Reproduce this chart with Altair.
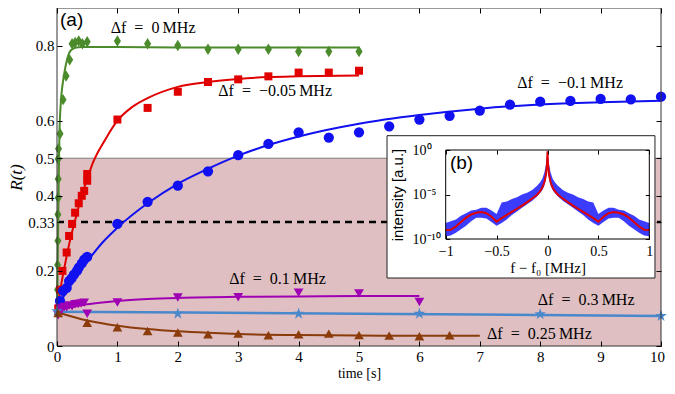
import altair as alt
import pandas as pd

# ---------------- main panel (a): measured points ----------------
series = ["0", "-0.05", "-0.1", "0.1", "0.3", "0.25"]
colors = ["#4b8b2b", "#e00000", "#1010f0", "#a000b4", "#4a88cc", "#8b3c0a"]

g_t = [0.01, 0.01, 0.015, 0.015, 0.02, 0.02, 0.02, 0.025, 0.05, 0.1, 0.15, 0.21, 0.25, 0.3, 0.36, 0.42, 0.5,
       1.0, 1.5, 2.0, 2.5, 3.0, 3.5, 4.0, 4.5, 5.0]
g_R = [0.15, 0.216, 0.28, 0.35, 0.395, 0.445, 0.498, 0.525, 0.565, 0.656, 0.719, 0.762, 0.805, 0.808, 0.812, 0.805, 0.81,
       0.812, 0.805, 0.80, 0.79, 0.79, 0.79, 0.784, 0.784, 0.784]

r_t = [0.02, 0.05, 0.09, 0.16, 0.2, 0.25, 0.3, 0.36, 0.41, 0.45, 0.5, 0.5, 1.0, 1.5, 2.0, 2.5, 3.0, 3.5, 4.0, 4.5, 5.0]
r_R = [0.10, 0.15, 0.2, 0.249, 0.293, 0.325, 0.355, 0.38, 0.4, 0.413, 0.44, 0.458, 0.603, 0.634, 0.677, 0.703, 0.71,
       0.718, 0.728, 0.728, 0.733]

b_t = [0.05, 0.1, 0.16, 0.2, 0.24, 0.28, 0.33, 0.36, 0.41, 0.45, 0.5, 1.0, 1.5, 2.0, 2.5, 3.0, 3.5, 4.0, 4.5, 5.0,
       5.5, 6.0, 6.5, 7.0, 7.5, 8.0, 8.5, 9.0, 9.5, 10.0]
b_R = [0.12, 0.147, 0.155, 0.173, 0.18, 0.19, 0.2, 0.209, 0.22, 0.23, 0.237, 0.325, 0.384, 0.427, 0.465, 0.508, 0.538,
       0.569, 0.555, 0.569, 0.585, 0.603, 0.613, 0.627, 0.643, 0.651, 0.653, 0.658, 0.657, 0.664]

m_t = [0.02, 0.05, 0.08, 0.12, 0.16, 0.2, 0.25, 0.3, 0.35, 0.4, 0.45, 0.5, 1.0, 2.0, 3.0, 4.0, 5.0, 6.0]
m_R = [0.082, 0.1, 0.098, 0.104, 0.103, 0.108, 0.106, 0.111, 0.112, 0.113, 0.115, 0.086, 0.116, 0.129, 0.13, 0.142,
       0.14, 0.117]

s_t = [0.0, 2.0, 4.0, 6.0, 8.0, 10.0]
s_R = [0.093, 0.086, 0.086, 0.086, 0.0845, 0.08]

n_t = [0.02, 0.5, 1.0, 1.5, 2.0, 2.5, 3.0, 3.5, 4.0, 4.5, 5.0, 5.5, 6.0, 6.5]
n_R = [0.088, 0.062, 0.05, 0.04, 0.036, 0.031, 0.033, 0.0285, 0.031, 0.033, 0.029, 0.0276, 0.026, 0.0285]

gf_t = [0, 0.01, 0.02, 0.03, 0.04, 0.06, 0.08, 0.1, 0.13, 0.17, 0.21, 0.26, 0.32, 0.4, 0.6, 1, 2, 3, 4, 5]
gf_R = [0.10, 0.2, 0.33, 0.46, 0.56, 0.64, 0.68, 0.705, 0.735, 0.765, 0.783, 0.791, 0.795, 0.796, 0.796, 0.796,
        0.795, 0.795, 0.795, 0.795]
rf_t = [0, 0.1, 0.2, 0.3, 0.4, 0.5, 0.6, 0.8, 1.0, 1.25, 1.5, 2.0, 2.5, 3.0, 3.5, 4.0, 5.0]
rf_R = [0.10, 0.19, 0.27, 0.335, 0.395, 0.445, 0.49, 0.55, 0.60, 0.637, 0.66, 0.69, 0.703, 0.711, 0.716, 0.718, 0.72]
bf_t = [0, 0.25, 0.5, 0.75, 1.0, 1.5, 2.0, 2.5, 3.0, 3.5, 4.0, 5.0, 6.0, 7.0, 8.0, 9.0, 10.0]
bf_R = [0.10, 0.17, 0.225, 0.275, 0.315, 0.38, 0.432, 0.472, 0.507, 0.535, 0.558, 0.592, 0.615, 0.632, 0.643,
        0.649, 0.653]
mf_t = [0, 0.25, 0.5, 0.75, 1.0, 1.5, 2.0, 3.0, 4.0, 5.0, 6.0]
mf_R = [0.095, 0.104, 0.111, 0.116, 0.12, 0.125, 0.128, 0.131, 0.132, 0.133, 0.133]
sf_t = [0, 5, 10]
sf_R = [0.0915, 0.086, 0.08]
nf_t = [0, 0.5, 1.0, 1.5, 2.0, 2.5, 3.0, 4.0, 5.0, 6.0, 7.0]
nf_R = [0.09, 0.068, 0.054, 0.045, 0.039, 0.035, 0.032, 0.029, 0.028, 0.027, 0.027]

y_ticks = [0, 0.2, 0.33, 0.4, 0.5, 0.6, 0.8]
x_ticks = [0, 1, 2, 3, 4, 5, 6, 7, 8, 9, 10]

EN, TH = "\u2002", "\u2009"
labels = ["Δf" + EN + "=" + EN + "0" + TH + "MHz",
          "Δf" + EN + "=" + EN + "−0.05" + TH + "MHz",
          "Δf" + EN + "=" + EN + "−0.1" + TH + "MHz",
          "Δf" + EN + "=" + EN + "0.1" + TH + "MHz",
          "Δf" + EN + "=" + EN + "0.3" + TH + "MHz",
          "Δf" + EN + "=" + EN + "0.25" + TH + "MHz"]
label_t = [0.89, 2.67, 7.62, 2.85, 7.96, 7.12]
label_R = [0.848, 0.68, 0.701, 0.179, 0.123, 0.032]

# ---------------- inset (b) ----------------
inset_f = [-1, -0.95, -0.9, -0.85, -0.8, -0.75, -0.7, -0.65, -0.6, -0.55, -0.5, -0.45, -0.4, -0.35, -0.3, -0.25,
           -0.2, -0.15, -0.1, -0.07, -0.05, -0.03, -0.015, -0.005, 0,
           0.005, 0.015, 0.03, 0.05, 0.07, 0.1, 0.15, 0.2, 0.25, 0.3, 0.35, 0.4, 0.45, 0.5, 0.55, 0.6, 0.65, 0.7,
           0.75, 0.8, 0.85, 0.9, 0.95, 1]
fit_exp = [-9.0, -8.95, -8.6, -8.1, -7.6, -7.25, -7.05, -6.97, -7.1, -7.5, -8.05, -7.65, -7.3, -6.95, -6.6, -6.25,
           -5.85, -5.45, -5.0, -4.6, -4.2, -3.6, -2.8, -1.6, -0.15,
           -1.6, -2.8, -3.6, -4.2, -4.6, -5.0, -5.45, -5.85, -6.25, -6.6, -6.95, -7.3, -7.65, -8.05, -7.5, -7.1,
           -6.97, -7.05, -7.25, -7.6, -8.1, -8.6, -8.95, -9.0]
cloud_lo = [-9.7, -9.6, -9.3, -8.9, -8.5, -8.0, -7.6, -7.6, -7.7, -8.1, -8.5, -8.2, -7.8, -7.3, -6.9, -6.5,
            -6.1, -5.7, -5.2, -4.8, -4.5, -4.0, -3.2, -2.0, -0.6,
            -2.0, -3.2, -4.0, -4.5, -4.8, -5.2, -5.7, -6.1, -6.5, -6.9, -7.3, -7.8, -8.2, -8.5, -8.1, -7.7,
            -7.6, -7.6, -8.0, -8.5, -8.9, -9.3, -9.6, -9.7]
cloud_hi = [-8.2, -8.0, -7.8, -7.4, -7.1, -6.8, -6.7, -6.5, -6.5, -6.8, -7.2, -5.9, -5.8, -5.5, -5.3, -5.0,
            -4.8, -4.5, -4.0, -3.6, -3.2, -2.5, -1.6, -0.6, 0.0,
            -0.6, -1.6, -2.5, -3.2, -3.6, -4.0, -4.5, -4.8, -5.0, -5.3, -5.5, -5.8, -5.9, -7.2, -6.8, -6.5,
            -6.5, -6.7, -6.8, -7.1, -7.4, -7.8, -8.0, -8.2]
inset_xticks = [-1, -0.5, 0, 0.5, 1]
inset_yticks = [1e-10, 1e-5, 1]

# ---------------- tables ----------------
pt_sets = [(g_t, g_R), (r_t, r_R), (b_t, b_R), (m_t, m_R), (s_t, s_R), (n_t, n_R)]
fit_sets = [(gf_t, gf_R), (rf_t, rf_R), (bf_t, bf_R), (mf_t, mf_R), (sf_t, sf_R), (nf_t, nf_R)]
lab = pd.DataFrame({"t": label_t, "R": label_R, "text": labels})
inset = pd.DataFrame({"f": inset_f,
                      "fit": [10 ** e for e in fit_exp],
                      "lo": [10 ** e for e in cloud_lo],
                      "hi": [10 ** e for e in cloud_hi]})

SERIF = "Liberation Serif"
SANS = "Liberation Sans"

diamond = "M0,-1L0.62,0L0,1L-0.62,0Z"
star = ("M0,-1L0.2245,-0.309L0.9511,-0.309L0.3633,0.118L0.5878,0.809L0,0.382L-0.5878,0.809"
        "L-0.3633,0.118L-0.9511,-0.309L-0.2245,-0.309Z")
shapes = [diamond, "square", "circle", "triangle-down", star, "triangle-up"]
sizes = [130, 64, 105, 95, 150, 95]
widths = [2, 2, 2, 2, 2.5, 2]

xs = alt.Scale(domain=[0, 10], nice=False, zero=False)
ys = alt.Scale(domain=[0, 0.9], nice=False, zero=False)
x_axis = alt.Axis(values=x_ticks, offset=-5, tickSize=5, domain=False, grid=False, labelFont=SERIF,
                  labelFontSize=15, labelPadding=3, labelColor="black", tickColor="black",
                  labelOffset={"condition": {"test": "datum.value == 10", "value": -4}, "value": 0},
                  titleFont=SERIF, titleFontSize=14, titleFontWeight="normal", titleColor="black",
                  titlePadding=2, zindex=1, labelFlush=False)
y_axis = alt.Axis(values=y_ticks, offset=-5, tickSize=5, domain=False, grid=False, labelFont=SERIF,
                  labelFontSize=15, labelPadding=3, labelColor="black", tickColor="black",
                  labelExpr="format(datum.value, '.2~f')",
                  titleFont=SERIF, titleFontSize=17, titleFontStyle="italic", titleFontWeight="normal",
                  titleColor="black", titlePadding=2, zindex=1, labelFlush=False)


def X(f):
    return alt.X(f, type="quantitative", scale=xs, axis=x_axis, title="time [s]")


def Y(f):
    return alt.Y(f, type="quantitative", scale=ys, axis=y_axis, title="R(t)")


shade_df = pd.DataFrame({"t0": [0], "t1": [10], "R0": [0], "R1": [0.5]})
shade = alt.Chart(shade_df).mark_rect(color="#dfbfc1").encode(
    x=X("t0"), x2="t1", y=Y("R0"), y2="R1")
half = alt.Chart(shade_df).mark_rule(color="#7a7a7a", strokeWidth=1).encode(
    x=X("t0"), x2="t1", y=Y("R1"))
dash_df = pd.DataFrame({"t0": [0], "t1": [10], "R": [0.33]})
dashed = alt.Chart(dash_df).mark_rule(color="black", strokeWidth=2.5, strokeDash=[7, 5]).encode(
    x=X("t0"), x2="t1", y=Y("R"))

series_layers = []
for (ft, fR), (pt, pR), c, shp, sz, w in zip(fit_sets, pt_sets, colors, shapes, sizes, widths):
    series_layers.append(
        alt.Chart(pd.DataFrame({"t": ft, "R": fR})).mark_line(interpolate="monotone", color=c, strokeWidth=w)
        .encode(x=X("t"), y=Y("R")))
for (ft, fR), (pt, pR), c, shp, sz, w in zip(fit_sets, pt_sets, colors, shapes, sizes, widths):
    series_layers.append(
        alt.Chart(pd.DataFrame({"t": pt, "R": pR})).mark_point(shape=shp, size=sz, filled=True, opacity=1,
                                                              color=c, strokeWidth=0)
        .encode(x=X("t"), y=Y("R")))

texts = alt.Chart(lab).mark_text(align="left", baseline="middle", font=SERIF, fontSize=16, color="black").encode(
    x=X("t"), y=Y("R"), text="text:N")
a_df = pd.DataFrame({"t": [0.05], "R": [0.867], "text": ["(a)"]})
a_txt = alt.Chart(a_df).mark_text(align="left", baseline="middle", font=SANS, fontSize=19, color="black").encode(
    x=X("t"), y=Y("R"), text="text:N")
box_df = pd.DataFrame({"t0": [5.464], "t1": [9.90], "R0": [0.181], "R1": [0.56]})
whitebox = alt.Chart(box_df).mark_rect(fill="white", stroke="#222222", strokeWidth=1).encode(
    x=X("t0"), x2="t1", y=Y("R0"), y2="R1")
frame_df = pd.DataFrame({"t0": [0], "t1": [10], "R0": [0], "R1": [0.9]})
frame = alt.Chart(frame_df).mark_rect(fillOpacity=0, stroke="#333333", strokeWidth=1).encode(
    x=X("t0"), x2="t1", y=Y("R0"), y2="R1")

main = alt.layer(shade, half, dashed, *series_layers, texts, a_txt, whitebox, frame)

# mirrored ticks (top / right)
tick_df = pd.DataFrame({"t": s_t, "R": s_R})
mirror = alt.Chart(tick_df).mark_point(opacity=0).encode(
    x=alt.X("t:Q", scale=alt.Scale(domain=[0, 10], nice=False, zero=False), title=None,
            axis=alt.Axis(orient="top", values=x_ticks, labels=False, domain=False, grid=False, tickSize=5,
                          offset=-5, tickColor="black", zindex=1)),
    y=alt.Y("R:Q", scale=alt.Scale(domain=[0, 0.9], nice=False, zero=False), title=None,
            axis=alt.Axis(orient="right", values=y_ticks, labels=False, domain=False, grid=False, tickSize=5,
                          offset=-5, tickColor="black", zindex=1)))

# inset
ixs = alt.Scale(domain=[-1, 1], range=[388.7, 592.3], nice=False, zero=False)
iys = alt.Scale(type="log", domain=[1e-10, 1], range=[231, 142], nice=False)
ix_axis = alt.Axis(orient="bottom", values=inset_xticks, offset=-111, tickSize=4, domain=False, grid=False,
                   labelFont=SERIF, labelFontSize=14, labelPadding=5, labelColor="black", tickColor="black",
                   labelExpr="format(datum.value, '~g')", labelFlush=False,
                   titleFont=SERIF, titleFontSize=15, titleFontWeight="normal", titleColor="black",
                   titlePadding=2, zindex=1)
iy_axis = alt.Axis(orient="left", values=inset_yticks, offset=-392.7, tickSize=4, domain=False, grid=False,
                   labelFont=SERIF, labelFontSize=14, labelPadding=33.7, labelAlign="left", labelColor="black",
                   tickColor="black", labelFlush=False,
                   labelExpr="datum.value >= 0.5 ? '10⁰' : (datum.value >= 1e-6 ? '10⁻⁵' : '10⁻¹⁰')",
                   titleFont=SANS, titleFontSize=15, titleFontWeight="normal", titleColor="black",
                   titlePadding=7, zindex=1)


def IX(f):
    return alt.X(f, type="quantitative", scale=ixs, axis=ix_axis, title="f − f₀ [MHz]")


def IY(f):
    return alt.Y(f, type="quantitative", scale=iys, axis=iy_axis, title="intensity [a.u.]")


band = alt.Chart(inset).mark_area(color="#1a1aff", opacity=0.85).encode(x=IX("f"), y=IY("hi"), y2="lo")
redfit = alt.Chart(inset).mark_line(color="#e00000", strokeWidth=2).encode(x=IX("f"), y=IY("fit"))
ibox_df = pd.DataFrame({"f0": [-1], "f1": [1], "I0": [1e-10], "I1": [1]})
ibox = alt.Chart(ibox_df).mark_rect(fillOpacity=0, stroke="black", strokeWidth=1).encode(
    x=IX("f0"), x2="f1", y=IY("I0"), y2="I1")
b_df = pd.DataFrame({"f": [-0.958], "I": [0.035], "text": ["(b)"]})
b_txt = alt.Chart(b_df).mark_text(align="left", baseline="middle", font=SANS, fontSize=19, color="black").encode(
    x=IX("f"), y=IY("I"), text="text:N")
inset_layer = alt.layer(band, redfit, ibox, b_txt)

# inset mirrored ticks (top / right)
inset_mirror = alt.Chart(inset).mark_point(opacity=0).encode(
    x=alt.X("f:Q", scale=alt.Scale(domain=[-1, 1], range=[388.7, 592.3], nice=False, zero=False), title=None,
            axis=alt.Axis(orient="top", values=inset_xticks, labels=False, domain=False, grid=False, tickSize=4,
                          offset=-146, tickColor="black", zindex=1)),
    y=alt.Y("fit:Q", scale=alt.Scale(type="log", domain=[1e-10, 1], range=[231, 142], nice=False), title=None,
            axis=alt.Axis(orient="right", values=inset_yticks, labels=False, domain=False, grid=False,
                          tickSize=4, offset=-15.7, tickColor="black", zindex=1)))

chart = alt.layer(main, mirror, inset_layer, inset_mirror).resolve_scale(
    x="independent", y="independent").properties(
    width=604, height=338,
    padding={"left": 49, "top": 0, "right": 6, "bottom": 42},
    autosize=alt.AutoSizeParams(type="none"),
    background="white",
).configure_view(strokeWidth=0)

chart.save("out.html", embed_options={"renderer": "svg", "actions": False})
